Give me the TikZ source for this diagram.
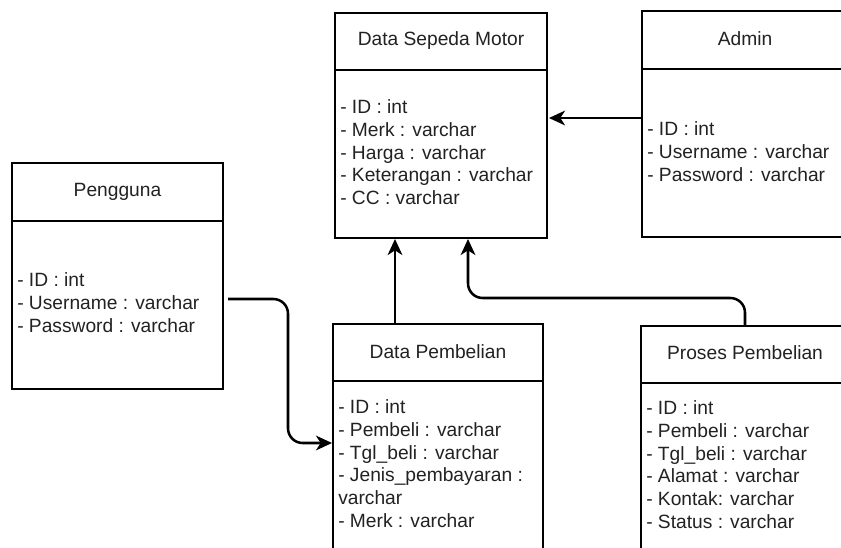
\documentclass[tikz,border=0pt]{standalone}
\usepackage{fontspec}
\setmainfont{Liberation Sans}
\usetikzlibrary{arrows.meta}
\definecolor{txt}{HTML}{222222}
\tikzset{
  box/.style={draw=black, line width=2.1pt},
  conn/.style={draw=black, line width=1.9pt, rounded corners=11pt, -{Stealth[length=12pt,width=11pt,inset=3.5pt]}},
  title/.style={inner sep=0pt, font=\fontsize{14.4pt}{17.2pt}\selectfont, text=txt},
  attrs/.style={inner sep=0pt, anchor=north west, align=left, font=\fontsize{14.4pt}{17.2pt}\selectfont, text=txt},
}
\begin{document}
\begin{tikzpicture}[x=0.75pt,y=-0.75pt]
\clip (0,0) rectangle (841,547);
\fill[white] (0,0) rectangle (841,547);
% Data Sepeda Motor
\draw[box] (335,13) rectangle (547,238);
\draw[box] (335,70) -- (547,70);
\node[title] (dsmT) at (441,41) {Data Sepeda Motor};
\node[attrs] (dsmA) at (340,99) {- ID : int\\- Merk : varchar\\- Harga : varchar\\- Keterangan : varchar\\- CC : varchar};
\coordinate (dsmR) at (549,118);
\coordinate (dsmB1) at (395,239);
\coordinate (dsmB2) at (468,239);
% Admin
\draw[box] (642,11) rectangle (854,237);
\draw[box] (642,69) -- (854,69);
\node[title] (admT) at (745,39) {Admin};
\node[attrs] (admA) at (647,121) {- ID : int\\- Username : varchar\\- Password : varchar};
\coordinate (admL) at (642,118);
% Pengguna
\draw[box] (12,163) rectangle (223,389);
\draw[box] (12,221) -- (223,221);
\node[title] (pgT) at (117.5,192) {Pengguna};
\node[attrs] (pgA) at (17,272) {- ID : int\\- Username : varchar\\- Password : varchar};
\coordinate (pgR) at (228,299);
% Data Pembelian
\draw[box] (333,560) -- (333,324) -- (543,324) -- (543,560);
\draw[box] (333,381) -- (543,381);
\node[title] (dpT) at (438,352) {Data Pembelian};
\node[attrs] (dpA) at (338,399) {- ID : int\\- Pembeli : varchar\\- Tgl\_beli : varchar\\- Jenis\_pembayaran :\\varchar\\- Merk : varchar};
\coordinate (dpL) at (332,443);
\coordinate (dpT1) at (395,324);
% Proses Pembelian
\draw[box] (641,560) -- (641,326) -- (854,326);
\draw[box] (641,383) -- (854,383);
\node[title] (ppT) at (745,353) {Proses Pembelian};
\node[attrs] (ppA) at (646,400) {- ID : int\\- Pembeli : varchar\\- Tgl\_beli : varchar\\- Alamat : varchar\\- Kontak: varchar\\- Status : varchar};
\coordinate (ppT1) at (745,326);
% connectors
\draw[conn] (admL) -- (dsmR);
\draw[conn] (dpT1) -- (dsmB1);
\draw[conn] (ppT1) -- (745,298) -- (468,298) -- (dsmB2);
\draw[conn] (pgR) -- (288,299) -- (288,443) -- (dpL);
\end{tikzpicture}
\end{document}
